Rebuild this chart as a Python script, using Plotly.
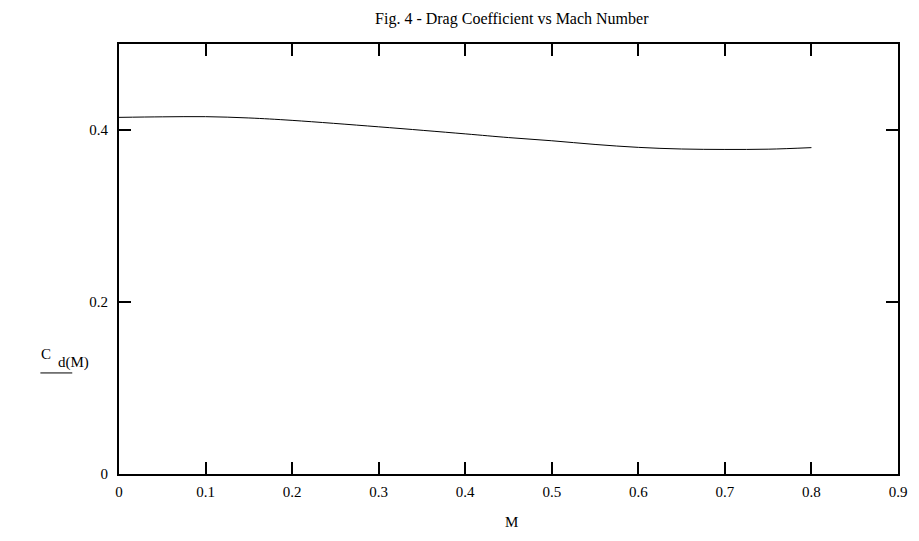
import plotly.graph_objects as go

mach = [0.0, 0.05, 0.1, 0.15, 0.2, 0.3, 0.4, 0.45, 0.5, 0.55, 0.6, 0.65, 0.7, 0.75, 0.8]
cd = [0.4147, 0.4153, 0.4155, 0.4140, 0.4112, 0.4037, 0.3955, 0.3912, 0.3875, 0.3832,
      0.3798, 0.3779, 0.3774, 0.3777, 0.3795]

x_ticks = [0, 0.1, 0.2, 0.3, 0.4, 0.5, 0.6, 0.7, 0.8, 0.9]
x_tick_text = ["0", "0.1", "0.2", "0.3", "0.4", "0.5", "0.6", "0.7", "0.8", "0.9"]
y_ticks = [0, 0.2, 0.4]
y_tick_text = ["0", "0.2", "0.4"]

serif = "Liberation Serif, Times New Roman, serif"

fig = go.Figure()
fig.add_trace(go.Scatter(x=mach, y=cd, mode="lines",
                         line=dict(color="black", width=1, shape="spline"),
                         showlegend=False, hoverinfo="skip"))

axis_common = dict(showline=True, mirror="allticks", linecolor="black", linewidth=2,
                   ticks="inside", ticklen=12, tickcolor="black", tickwidth=1.5,
                   showgrid=False, zeroline=False,
                   tickfont=dict(family=serif, size=15, color="black"))

fig.update_xaxes(range=[0, 0.9], tickvals=x_ticks, ticktext=x_tick_text,
                 ticklabelstandoff=3, **axis_common)
fig.update_yaxes(range=[0, 0.5], tickvals=y_ticks, ticktext=y_tick_text,
                 ticklabelstandoff=6, **axis_common)

# page body has an 8px default margin; figure sized to fit the 919x541 window
fig.update_layout(
    width=911, height=533,
    margin=dict(l=111, r=17, t=36, b=67),
    paper_bgcolor="white", plot_bgcolor="white",
    title=dict(text="Fig. 4 - Drag Coefficient vs Mach Number",
               font=dict(family=serif, size=16, color="black"),
               x=0.553, xanchor="center", y=0.991, yanchor="top"),
    font=dict(family=serif, color="black"),
)

fig.add_annotation(text="C", xref="paper", yref="paper",
                   x=-0.1029, y=0.28, xanchor="left", yanchor="middle", showarrow=False,
                   font=dict(family=serif, size=15, color="black"))
fig.add_annotation(text="d(M)", xref="paper", yref="paper",
                   x=-0.0815, y=0.26, xanchor="left", yanchor="middle", showarrow=False,
                   font=dict(family=serif, size=15, color="black"))
fig.add_shape(type="line", xref="paper", yref="paper",
              x0=-0.1009, x1=-0.060, y0=0.235, y1=0.235,
              line=dict(color="black", width=1))
fig.add_annotation(text="M", xref="paper", yref="paper",
                   x=0.504, y=-0.112, xanchor="center", yanchor="middle", showarrow=False,
                   font=dict(family=serif, size=15, color="black"))

fig.write_html("out.html")
